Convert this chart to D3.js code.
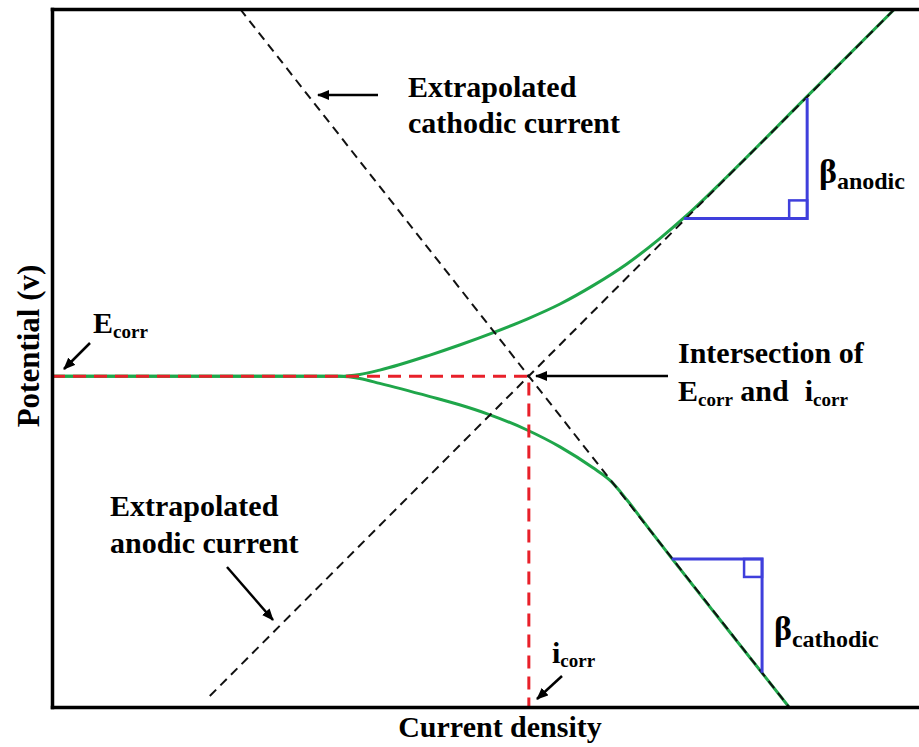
<!DOCTYPE html>
<html>
<head>
<meta charset="utf-8">
<script src="https://cdn.jsdelivr.net/npm/d3@7"></script>
<style>
  html, body { margin: 0; padding: 0; background: #fff; }
  svg { display: block; }
  text { font-family: "Liberation Serif", "Times New Roman", serif; font-weight: bold; fill: #000; }
</style>
</head>
<body>
<svg id="chart" width="919" height="747"></svg>
<script>
// Tafel plot: log current density (x) vs. potential (y), E = 0 at Ecorr.
const logIcorr = -3.5;
const Ecorr = 0;

// Measured polarisation curve, anodic branch
const anodicLogI = [-9, -5.68, -5.45, -5.22, -4.64, -4.29, -3.91, -3.52, -3.14, -2.76, -2.37, -1.99, -1.68, -1.22, -0.29, 0.72];
const anodicE    = [0, 0, 0.005, 0.017, 0.058, 0.086, 0.119, 0.156, 0.197, 0.247, 0.306, 0.375, 0.438, 0.542, 0.762, 1.0];

// Measured polarisation curve, cathodic branch
const cathodicLogI = [-9, -5.68, -5.45, -5.22, -4.64, -4.29, -3.98, -3.52, -3.14, -2.76, -2.56, -2.37, -2.14, -1.84, -1.22, -0.5];
const cathodicE    = [0, 0, -0.006, -0.019, -0.055, -0.078, -0.102, -0.146, -0.192, -0.249, -0.284, -0.336, -0.407, -0.499, -0.685, -0.9];

// Extrapolated Tafel lines (end points)
const anodicTafelLogI   = [-7.18, 0.72];
const anodicTafelE      = [-0.87, 1.0];
const cathodicTafelLogI = [-6.83, -0.5];
const cathodicTafelE    = [1.0, -0.9];

// Slope triangles: [logI start, logI end], [E of horizontal leg, E of far vertex]
const betaAnodicLogI   = [-1.71, -0.29];
const betaAnodicE      = [0.43, 0.758];
const betaCathodicLogI = [-1.85, -0.81];
const betaCathodicE    = [-0.497, -0.807];

const xDomain = [-9, 1];
const yDomain = [-0.9, 1.0];

const svg = d3.select("#chart");
const plotLeft = 52, plotRight = 919, plotTop = 9, plotBottom = 707;

const x = d3.scaleLinear().domain(xDomain).range([plotLeft, plotRight]);
const y = d3.scaleLinear().domain(yDomain).range([plotBottom, plotTop]);

const defs = svg.append("defs");
defs.append("clipPath").attr("id", "plot")
  .append("rect").attr("x", plotLeft).attr("y", plotTop)
  .attr("width", plotRight - plotLeft).attr("height", plotBottom - plotTop);

const marker = defs.append("marker")
  .attr("id", "head").attr("markerUnits", "userSpaceOnUse")
  .attr("viewBox", "0 0 12 10").attr("refX", 11).attr("refY", 5)
  .attr("markerWidth", 12).attr("markerHeight", 10).attr("orient", "auto");
marker.append("path").attr("d", "M0,0L12,5L0,10Z").attr("fill", "#000");

const g = svg.append("g").attr("clip-path", "url(#plot)");
const line = d3.line().x(d => x(d[0])).y(d => y(d[1]));
const curve = d3.line().x(d => x(d[0])).y(d => y(d[1])).curve(d3.curveMonotoneX);

// Polarisation curve
g.append("path").datum(d3.zip(anodicLogI, anodicE)).attr("d", curve)
  .attr("fill", "none").attr("stroke", "#1fa64a").attr("stroke-width", 3);
g.append("path").datum(d3.zip(cathodicLogI, cathodicE)).attr("d", curve)
  .attr("fill", "none").attr("stroke", "#1fa64a").attr("stroke-width", 3);

// Tafel extrapolations
[[anodicTafelLogI, anodicTafelE], [cathodicTafelLogI, cathodicTafelE]].forEach(([lx, ly]) => {
  g.append("path").datum(d3.zip(lx, ly)).attr("d", line)
    .attr("fill", "none").attr("stroke", "#111").attr("stroke-width", 2)
    .attr("stroke-dasharray", "9,6");
});

// Ecorr / icorr guides
g.append("path").datum([[xDomain[0], Ecorr], [logIcorr, Ecorr], [logIcorr, yDomain[0]]]).attr("d", line)
  .attr("fill", "none").attr("stroke", "#e8202a").attr("stroke-width", 3)
  .attr("stroke-dasharray", "13,8");

// Slope triangles with right-angle marks
const blue = "#3f3fdc";
function triangle(lx, le, markerDown) {
  const x0 = x(lx[0]), x1 = x(lx[1]), yh = y(le[0]), yv = y(le[1]);
  g.append("path").attr("d", `M${x0},${yh}H${x1}V${yv}`)
    .attr("fill", "none").attr("stroke", blue).attr("stroke-width", 3);
  const s = 18;
  const ys = markerDown ? yh : yh - s;
  g.append("rect").attr("x", x1 - s).attr("y", ys).attr("width", s).attr("height", s)
    .attr("fill", "none").attr("stroke", blue).attr("stroke-width", 2.5);
}
triangle(betaAnodicLogI, betaAnodicE, false);
triangle(betaCathodicLogI, betaCathodicE, true);

// Frame: left, top and bottom axis lines without ticks
const frame = svg.append("g");
frame.append("g").attr("transform", `translate(${plotLeft},0)`)
  .call(d3.axisLeft(y).tickValues([]).tickSizeOuter(0));
frame.append("g").attr("transform", `translate(0,${plotTop})`)
  .call(d3.axisTop(x).tickValues([]).tickSizeOuter(0));
frame.append("g").attr("transform", `translate(0,${plotBottom})`)
  .call(d3.axisBottom(x).tickValues([]).tickSizeOuter(0));
frame.selectAll(".domain").attr("stroke", "#000").attr("stroke-width", 3.5).attr("stroke-linecap", "square");

// Axis titles
svg.append("text").attr("x", 500).attr("y", 737).attr("text-anchor", "middle")
  .style("font-size", "30px").text("Current density");
svg.append("text").attr("transform", "translate(39,346) rotate(-90)").attr("text-anchor", "middle")
  .style("font-size", "31px").text("Potential (v)");

// Annotations
function label(xp, yp, parts) {
  const t = svg.append("text").attr("x", xp).attr("y", yp);
  let shift = 0;
  parts.forEach(p => {
    const ts = t.append("tspan").text(p.t).style("font-size", p.size + "px");
    const target = p.sub || 0;
    if (target !== shift) { ts.attr("dy", target - shift); shift = target; }
    if (p.dx) ts.attr("dx", p.dx);
  });
  return t;
}
function arrow(x1, y1, x2, y2) {
  svg.append("line").attr("x1", x1).attr("y1", y1).attr("x2", x2).attr("y2", y2)
    .attr("stroke", "#000").attr("stroke-width", 2.5).attr("marker-end", "url(#head)");
}

label(408, 97, [{t: "Extrapolated", size: 30}]);
label(408, 133, [{t: "cathodic current", size: 30}]);
arrow(378, 95, 318, 95);

label(93, 333, [{t: "E", size: 30}, {t: "corr", size: 19, sub: 5}]);
arrow(90, 343, 64, 369);

label(678, 363, [{t: "Intersection of", size: 30}]);
label(678, 401, [{t: "E", size: 30}, {t: "corr", size: 19, sub: 5}, {t: " and", size: 30, sub: 0}, {t: "i", size: 30, dx: 16}, {t: "corr", size: 19, sub: 5}]);
arrow(668, 376, 536, 376);

label(110, 516, [{t: "Extrapolated", size: 30}]);
label(110, 553, [{t: "anodic current", size: 30}]);
arrow(227, 567, 273, 620);

label(819, 183, [{t: "β", size: 34}, {t: "anodic", size: 24, sub: 6}]);
label(774, 640, [{t: "β", size: 34}, {t: "cathodic", size: 24, sub: 7}]);

label(552, 663, [{t: "i", size: 30}, {t: "corr", size: 19, sub: 4}]);
arrow(562, 676, 537, 699);
</script>
</body>
</html>
